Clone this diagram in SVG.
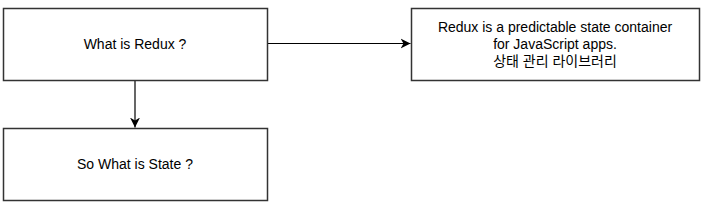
<svg xmlns="http://www.w3.org/2000/svg" width="702" height="202" viewBox="0 0 702 202">
<style>
.box{fill:#fff;stroke:#333;stroke-width:1.5}
.t{font-family:"Liberation Sans","Noto Sans CJK KR",sans-serif;font-size:14px;fill:#000;text-anchor:middle}
.edge{fill:none;stroke:#000;stroke-width:1.2}
</style>
<defs>
<marker id="ah" markerWidth="12" markerHeight="12" refX="10" refY="6" orient="auto" markerUnits="userSpaceOnUse">
<path d="M0,1 L10,6 L0,11 L3,6 Z" fill="#000"/>
</marker>
</defs>
<rect width="702" height="202" fill="#fff"/>
<g id="edges">
<path class="edge" d="M135 80 V127.5" marker-end="url(#ah)"/>
<path class="edge" d="M267 43.5 H410.5" marker-end="url(#ah)"/>
</g>
<g id="redux">
<rect class="box" x="3.5" y="8.5" width="264" height="72"/>
<text class="t" x="135" y="49">What is Redux ?</text>
</g>
<g id="state">
<rect class="box" x="3.5" y="128.5" width="264" height="72"/>
<text class="t" x="135" y="169">So What is State ?</text>
</g>
<g id="desc">
<rect class="box" x="411.5" y="8.5" width="288" height="72"/>
<text class="t" x="555" y="32">Redux is a predictable state container</text>
<text class="t" x="555" y="49">for JavaScript apps.</text>
<text class="t" x="555" y="66">상태 관리 라이브러리</text>
</g>
</svg>
